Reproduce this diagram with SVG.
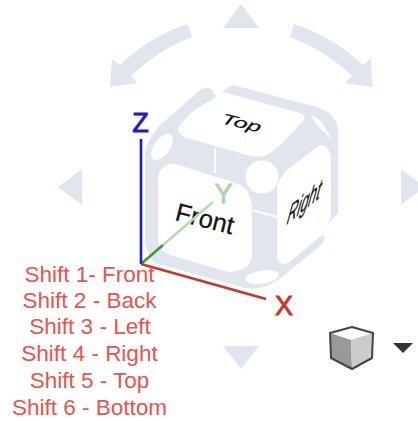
<svg xmlns="http://www.w3.org/2000/svg" width="418" height="421" viewBox="0 0 418 421">
<style>
.g{fill:#e1e6ee}
.w{fill:#fff}
.wl{stroke:#fff;stroke-width:2;fill:none}
.ax{fill:none;stroke-width:2.6}
.lb{font-family:"Liberation Sans",Arial,sans-serif;font-size:27px;text-anchor:middle;stroke-width:.9}
.red{font-family:"Liberation Sans",Arial,sans-serif;font-size:22.5px;fill:#e9534c;text-anchor:middle}
.face{font-family:"Liberation Sans",Arial,sans-serif;fill:#111;stroke:#111;stroke-width:.25}
</style>
<rect width="418" height="421" fill="#fff"/>
<g id="nav-arrows">
<polygon class="g" points="241,4 259,28 223,28"/>
<polygon class="g" points="241,369 259,346 223,346"/>
<polygon class="g" points="58,187 82,169 82,205"/>
<polygon class="g" points="425,187 401,169 401,205"/>
<path class="g" d="M188,24 Q150,36 120,65 L112,59 L110,87 L137,83 L131,76 Q158,50 192,37 Z"/>
<path class="g" d="M294,24 Q332,36 363,65 L371,58 L372,87 L345,83 L352,76 Q325,50 290,37 Z"/>
</g>
<g id="view-cube">
<path class="g" d="M145,153 Q146,143 158,127 L200,90 Q208,85 212,90 Q214,94 222,95 Q222,90 233,85 L317,107 Q333,112 337,125 Q339,130 338,140 L338,213 L327,225 L325,238 Q323,243 320,246 L283,276 Q272,285 260,288 Q252,289 245,288 L155,263 Q146,255 145,240 Z"/>
<path class="w" d="M178,128 Q184,118 197,108 L215,98 Q220,92 227,93 L300,113 Q306,116 304,120 L287,138 Q276,150 267,155 Q257,158 247,155 L187,138 Q177,134 178,128 Z"/>
<path class="w" d="M158,183 Q158,170 163,168 Q168,162 175,164 L233,182 Q246,186 248,193 Q252,200 252,210 L252,257 Q250,268 240,270 Q233,273 225,271 L170,255 Q158,250 158,237 Z"/>
<path class="w" d="M277,187 Q280,177 287,170 L320,145 Q330,145 331,160 L331,217 L327,225 L322,235 L290,262 Q280,268 277,257 Z"/>
<circle class="w" cx="262" cy="177" r="16.5"/>
<ellipse class="w" cx="162" cy="147" rx="15" ry="8" transform="rotate(-55 162 147)"/>
<ellipse class="w" cx="262" cy="277" rx="17" ry="6.500" transform="rotate(-8 262 277)"/>
<polygon class="w" points="310,114 322,122 332,140 317,125"/>
<path class="wl" d="M215,148 V173 M252,210 L277,217"/>
<polygon class="w" points="327,225 340,219 340,240 322,236"/>
<polygon class="w" points="212,88 222,88 222,96 216,98"/>
<text class="face" font-size="20" transform="matrix(1.2,.29,-.28,.7,220,123)" font-style="italic">Top</text>
<text class="face" font-size="25.500" transform="translate(174,220) rotate(14)">Front</text>
<text class="face" font-size="20" transform="matrix(.71,-.58,-.28,1.4,286,225)" font-style="italic">Right</text>
</g>
<g id="axes">
<path class="ax" stroke="#b2ddb0" d="M163,245 L213,202"/>
<path class="ax" stroke="#3f9a2f" d="M141,264 L163,245"/>
<path class="ax" stroke="#1c1cc8" d="M141,139 V264"/>
<path class="ax" stroke="#c9352b" d="M141,264 L266,299"/>
<text class="lb" x="140.500" y="132" fill="#1c1cc8" stroke="#1c1cc8">Z</text>
<text class="lb" x="223.500" y="203" fill="#a9d9a6" stroke="#a9d9a6">Y</text>
<text class="lb" x="284" y="315" fill="#c9352b" stroke="#c9352b">X</text>
</g>
<g id="shortcuts">
<text class="red" x="89.500" y="282">Shift 1- Front</text>
<text class="red" x="89.500" y="308">Shift 2 - Back</text>
<text class="red" x="90" y="334">Shift 3 - Left</text>
<text class="red" x="89.500" y="361">Shift 4 - Right</text>
<text class="red" x="89.500" y="388">Shift 5 - Top</text>
<text class="red" x="89.500" y="415">Shift 6 - Bottom</text>
</g>
<g id="cube-menu">
<polygon fill="#fff" points="352,327 373,333 351,340 330,333"/>
<polygon fill="#999" points="330,333 351,340 352,369 331,358"/>
<polygon fill="#ccc" points="373,333 351,340 352,369 372,358"/>
<polygon fill="none" stroke="#444" stroke-width="2" stroke-linejoin="round" points="352,327 373,333 372,358 352,369 331,358 330,333"/>
<polygon fill="#333" points="393,343 413,343 403,353"/>
</g>
</svg>
